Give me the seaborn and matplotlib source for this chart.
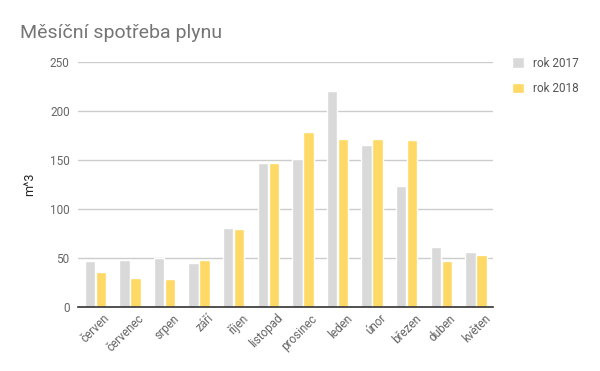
import matplotlib
matplotlib.use("Agg")
import matplotlib.pyplot as plt
import matplotlib.transforms as mtransforms
import seaborn as sns
import pandas as pd

months = ["červen", "červenec", "srpen", "září", "říjen", "listopad",
          "prosinec", "leden", "únor", "březen", "duben", "květen"]
rok_2017 = [47, 48, 50, 45, 81, 147, 151, 220, 165, 123, 61, 56]
rok_2018 = [36, 30, 29, 48, 80, 147, 179, 171, 171, 170, 47, 53]
series = ["rok 2017", "rok 2018"]

df = pd.DataFrame({
    "mesic": months * 2,
    "hodnota": rok_2017 + rok_2018,
    "rok": [series[0]] * len(months) + [series[1]] * len(months),
})

sns.set_style("white")
plt.rcParams["font.family"] = ["Roboto", "DejaVu Sans"]

fig = plt.figure(figsize=(6, 3.71), dpi=100)
ax = fig.add_axes([0.13, 0.1725, 0.692, 0.6605])

sns.barplot(
    data=df, x="mesic", y="hodnota", hue="rok",
    palette=["#d9d9d9", "#fed966"], width=0.63, gap=0.04,
    ax=ax, saturation=1, legend=True
)

ax.set_ylim(0, 250)
ax.set_yticks(range(0, 251, 50))
ax.set_xlim(-0.5, len(months) - 0.5)
ax.yaxis.grid(True, color="#cccccc", linewidth=1)
ax.set_axisbelow(True)
for s in ["top", "right", "left"]:
    ax.spines[s].set_visible(False)
ax.spines["bottom"].set_color("#333333")
ax.spines["bottom"].set_linewidth(1.2)
ax.tick_params(axis="both", length=0, colors="#666666", labelsize=8.5)
ax.tick_params(axis="y", pad=6)
shift = mtransforms.ScaledTranslation(0.08, 0, fig.dpi_scale_trans)
for lbl in ax.get_xticklabels():
    lbl.set_rotation(45)
    lbl.set_ha("right")
    lbl.set_rotation_mode("anchor")
    lbl.set_transform(lbl.get_transform() + shift)
ax.set_xlabel("")
ax.set_ylabel("m^3", color="#222222", fontsize=9)
ax.yaxis.set_label_coords(-0.10, 0.5)

leg = ax.legend(loc="upper left", bbox_to_anchor=(1.02, 1.065), frameon=False,
                fontsize=8.5, handlelength=1.0, handleheight=1.0,
                labelspacing=1.05, handletextpad=0.8)
for t in leg.get_texts():
    t.set_color("#555555")

fig.text(0.033, 0.898, "Měsíční spotřeba plynu", fontsize=14, color="#757575")

fig.savefig("out.png", dpi=100)
